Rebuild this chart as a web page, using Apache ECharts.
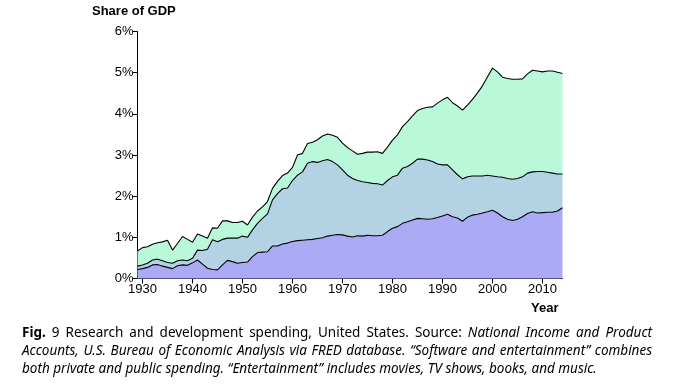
<!DOCTYPE html>
<html>
<head>
<meta charset="utf-8">
<script src="https://cdn.jsdelivr.net/npm/echarts@6/dist/echarts.min.js"></script>
<style>
html,body{margin:0;padding:0;background:#fff;}
#chart{width:675px;height:392px;}
</style>
</head>
<body>
<div id="chart"></div>
<script>
var years = [];
for (var y = 1929; y <= 2014; y++) years.push(String(y));

var privateRD = [0.22,0.24,0.27,0.33,0.34,0.30,0.27,0.24,0.31,0.33,0.32,0.38,0.45,0.35,0.25,0.22,0.21,0.33,0.44,0.41,0.37,0.39,0.40,0.53,0.63,0.64,0.65,0.79,0.79,0.84,0.86,0.90,0.92,0.93,0.94,0.95,0.97,0.99,1.03,1.05,1.07,1.06,1.03,1.01,1.04,1.03,1.05,1.04,1.04,1.05,1.14,1.22,1.26,1.34,1.38,1.42,1.46,1.45,1.44,1.45,1.48,1.52,1.56,1.50,1.47,1.39,1.49,1.54,1.56,1.59,1.62,1.66,1.59,1.50,1.44,1.41,1.44,1.50,1.58,1.62,1.59,1.60,1.61,1.61,1.64,1.72];
var governmentRD = [0.08,0.09,0.10,0.12,0.13,0.13,0.12,0.13,0.12,0.12,0.11,0.11,0.24,0.33,0.46,0.72,0.68,0.62,0.54,0.57,0.61,0.64,0.60,0.65,0.71,0.82,0.92,1.12,1.27,1.34,1.34,1.48,1.59,1.66,1.86,1.89,1.85,1.87,1.86,1.79,1.69,1.58,1.48,1.42,1.34,1.32,1.28,1.27,1.26,1.22,1.24,1.25,1.25,1.34,1.34,1.38,1.44,1.45,1.44,1.39,1.30,1.24,1.20,1.14,1.05,1.03,0.98,0.95,0.93,0.90,0.89,0.83,0.88,0.96,0.99,1.00,0.99,0.97,0.98,0.97,1.01,1.00,0.97,0.95,0.90,0.82];
var softwareEnt = [0.37,0.42,0.40,0.38,0.40,0.46,0.54,0.32,0.42,0.57,0.52,0.39,0.39,0.35,0.27,0.29,0.33,0.45,0.42,0.38,0.38,0.36,0.30,0.31,0.30,0.28,0.30,0.28,0.30,0.32,0.36,0.32,0.49,0.45,0.48,0.47,0.55,0.60,0.62,0.64,0.67,0.65,0.67,0.67,0.64,0.69,0.74,0.76,0.78,0.77,0.81,0.89,0.98,1.01,1.09,1.15,1.18,1.23,1.28,1.33,1.48,1.58,1.64,1.63,1.67,1.67,1.74,1.86,2.02,2.19,2.39,2.62,2.55,2.43,2.43,2.43,2.41,2.38,2.41,2.47,2.44,2.42,2.46,2.48,2.47,2.44];

var xTickLabels = ['1930','1940','1950','1960','1970','1980','1990','2000','2010'];

var FONT = 'Liberation Sans, Arial, sans-serif';
var CAP = '"Noto Sans", sans-serif';

function showTick(idx, val){ return xTickLabels.indexOf(String(val)) >= 0; }

function mk(name, arr, color){
  return {
    name: name, type:'line', stack:'total', data: arr,
    showSymbol:false, symbol:'none', smooth:false,
    lineStyle:{color:'#000', width:1.1},
    areaStyle:{color:color, opacity:1},
    emphasis:{disabled:true}
  };
}

// caption lines, justified (layout only)
var capSize = 13.5;
var capLines = [
  {justify:true, words:[['Fig.','bold'],['9',''],['Research',''],['and',''],['development',''],['spending,',''],['United',''],['States.',''],['Source:',''],['National','italic'],['Income','italic'],['and','italic'],['Product','italic']]},
  {justify:true, words:'Accounts, U.S. Bureau of Economic Analysis via FRED database. “Software and entertainment” combines'.split(' ').map(function(w){return [w,'italic'];})},
  {justify:false, words:'both private and public spending. “Entertainment” includes movies, TV shows, books, and music.'.split(' ').map(function(w){return [w,'italic'];})}
];
var capLeft = 22, capRight = 652, capTop = [326, 344, 362];
var ctx = document.createElement('canvas').getContext('2d');
function fontOf(st){ return (st ? st + ' ' : '') + capSize + 'px ' + CAP; }
var capGraphics = [];
capLines.forEach(function(line, li){
  var widths = line.words.map(function(w){ ctx.font = fontOf(w[1]); return ctx.measureText(w[0]).width; });
  ctx.font = fontOf('');
  var sp = ctx.measureText(' ').width;
  var total = widths.reduce(function(a,b){return a+b;},0);
  var gap = line.justify ? (capRight - capLeft - total) / (line.words.length - 1) : sp;
  var x = capLeft;
  line.words.forEach(function(w, i){
    capGraphics.push({type:'text', x:x, y:capTop[li], style:{text:w[0], font:fontOf(w[1]), fill:'#000', textVerticalAlign:'top'}});
    x += widths[i] + gap;
  });
});

var chart = echarts.init(document.getElementById('chart'), null, {renderer:'canvas'});
chart.setOption({
  animation:false,
  backgroundColor:'#fff',
  grid:{left:137.5, right:112.5, top:31.5, bottom:113.5},
  xAxis:{
    type:'category', data:years, boundaryGap:false,
    axisLine:{lineStyle:{color:'#000', width:1}},
    axisTick:{show:true, length:5, inside:false, interval:showTick, lineStyle:{color:'#000'}},
    axisLabel:{interval:showTick, color:'#000', fontSize:13, fontFamily:FONT, margin:4},
    splitLine:{show:false}
  },
  yAxis:{
    type:'value', min:0, max:6, interval:1,
    axisLine:{show:true, lineStyle:{color:'#000', width:1}},
    axisTick:{show:true, length:5, inside:false, lineStyle:{color:'#000'}},
    axisLabel:{color:'#000', fontSize:13, fontFamily:FONT, margin:4, formatter:'{value}%'},
    splitLine:{show:false}
  },
  series:[
    mk('Private R&D', privateRD, '#aaaaf5'),
    mk('Government R&D', governmentRD, '#b3d3e5'),
    mk('Software and entertainment', softwareEnt, '#b9f9d9')
  ],
  graphic:[
    {type:'text', left:92, top:5, style:{text:'Share of GDP', font:'bold 13px '+FONT, fill:'#000'}},
    {type:'text', left:531, top:302, style:{text:'Year', font:'bold 13px '+FONT, fill:'#000'}},
    {type:'text', x:508, y:121, style:{text:'Software and\nentertainment', font:'13px '+FONT, fill:'#222', align:'center', verticalAlign:'middle', lineHeight:16}},
    {type:'text', x:373, y:203, style:{text:'Government R&D', font:'13px '+FONT, fill:'#222', align:'center', verticalAlign:'middle'}},
    {type:'text', x:486, y:248, style:{text:'Private R&D', font:'13px '+FONT, fill:'#222', align:'center', verticalAlign:'middle'}}
  ].concat(capGraphics)
});
</script>
</body>
</html>
